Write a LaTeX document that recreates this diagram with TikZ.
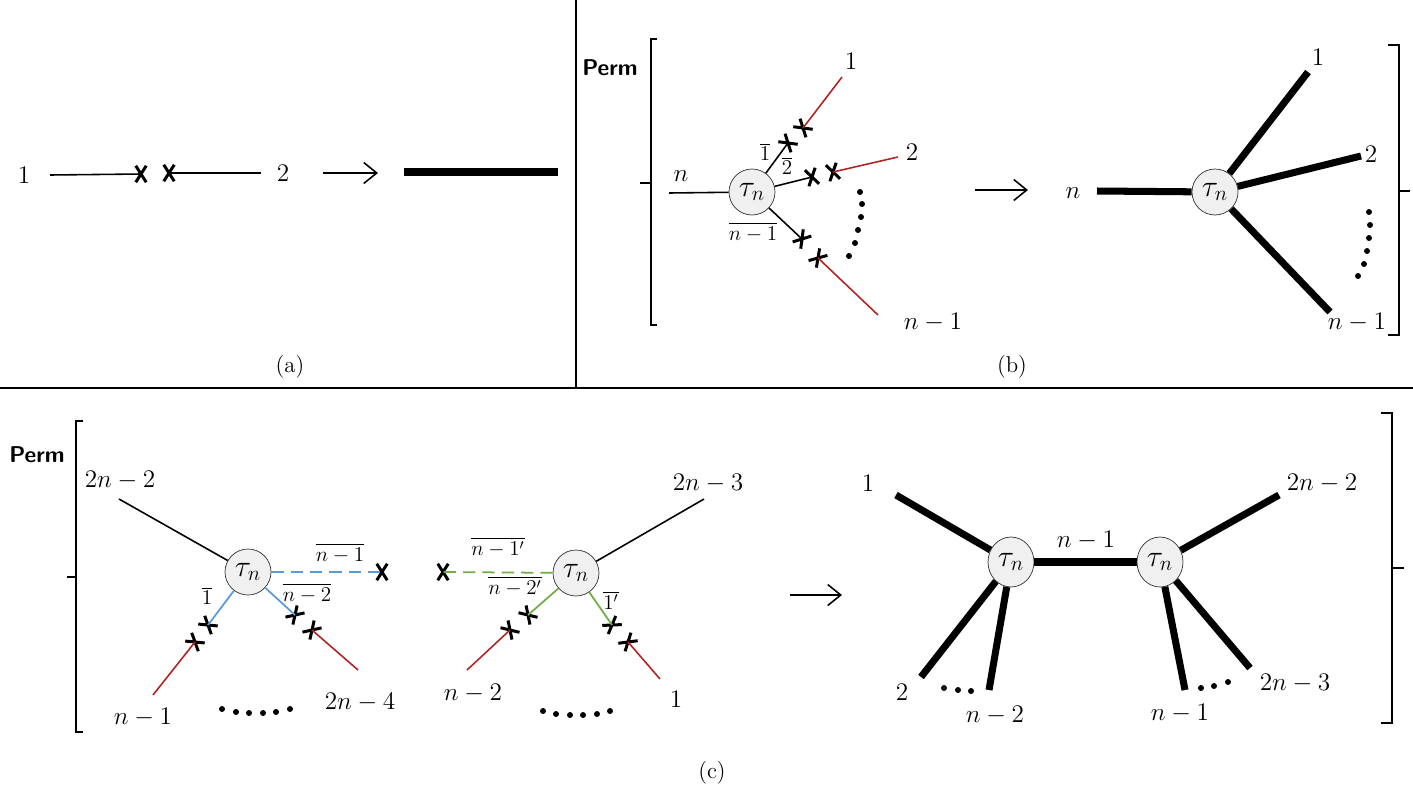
\documentclass[tikz,border=0pt]{standalone}
\usepackage{amsmath,amssymb}
\usepackage{xcolor}
\usetikzlibrary{arrows.meta,positioning,shapes.misc,shapes.geometric}
\definecolor{legred}{HTML}{B22222}
\definecolor{legblue}{HTML}{5B9BD5}
\definecolor{leggreen}{HTML}{70AD47}

\begin{document}
\begin{tikzpicture}[
    x=0.02cm,
    y=-0.02cm,
    >={Straight Barb[length=2.6mm,width=4.2mm]},
    font=\fontsize{15}{18}\selectfont,
    vert/.style={
        draw=black!80,
        circle,
        thin,
        fill=gray!12,
        minimum size=0.92cm,
        inner sep=0pt,
        font=\fontsize{18}{20}\selectfont
    },
    vertb/.style={
        draw=black!80,
        ellipse,
        thin,
        fill=gray!12,
        minimum width=0.92cm,
        minimum height=1.0cm,
        inner sep=0pt,
        font=\fontsize{18}{20}\selectfont
    },
    xmk/.style={
        cross out,
        draw,
        line width=1.7pt,
        minimum width=0.15cm,
        minimum height=0.27cm,
        inner sep=0pt
    },
    leg/.style={line width=0.9pt},
    redleg/.style={line width=0.9pt, draw=legred},
    blueleg/.style={line width=1pt, draw=legblue},
    greenleg/.style={line width=1pt, draw=leggreen},
    fat/.style={line width=4pt},
    arr/.style={->, line width=0.9pt},
    brk/.style={line width=1.1pt},
    sml/.style={font=\fontsize{12}{14}\selectfont, inner sep=1pt},
    captxt/.style={font=\fontsize{13}{15}\selectfont},
    perm/.style={font=\sffamily\bfseries\fontsize{13}{15}\selectfont}
]
\useasboundingbox (0,0) rectangle (1413,795);

% frame lines
\draw[line width=1pt] (0,388) -- (1413,388);
\draw[line width=1pt] (576,0) -- (576,388);

% panel (a)
\node (a1) at (24,175) {$1$};
\node (a2) at (283,173) {$2$};
\coordinate (a1e) at (50,175);
\coordinate (a2e) at (261,173);
\node[xmk] (ax1) at (141,174) {};
\node[xmk] (ax2) at (169,173) {};
\draw[leg] (a1e) -- (ax1.center);
\draw[leg] (ax2.center) -- (a2e);
\coordinate (aarS) at (323,173);
\coordinate (aarE) at (378,173);
\draw[arr] (aarS) -- (aarE);
\coordinate (afatS) at (404,172);
\coordinate (afatE) at (558,172);
\draw[fat] (afatS) -- (afatE);
\node[captxt] (capa) at (290,367) {(a)};

% panel (b): left side
\node[perm] (permb) at (610,68) {Perm};
\draw[brk] (657,39) -- (651,39) -- (651,325) -- (657,325);
\draw[brk] (651,183) -- (640,183);

\node[vert] (tb) at (752,192) {$\tau_n$};
\coordinate (bn) at (669,193);
\node (bnl) at (681,176) {$n$};
\draw[leg] (bn) -- (tb);

\node[xmk, rotate=50] (bx1) at (788,143) {};
\node[xmk, rotate=50] (bx2) at (803,128) {};
\coordinate (b1e) at (842,77);
\node (b1l) at (851,61) {$1$};
\draw[leg] (tb) -- (bx1.center);
\draw[redleg] (bx2.center) -- (b1e);
\node[sml] (b1bar) at (765,152) {$\overline{1}$};

\node[xmk, rotate=14] (bx3) at (812,177) {};
\node[xmk, rotate=14] (bx4) at (833,172) {};
\coordinate (b2e) at (898,157);
\node (b2l) at (912,152) {$2$};
\draw[leg] (tb) -- (bx3.center);
\draw[redleg] (bx4.center) -- (b2e);
\node[sml] (b2bar) at (787,166) {$\overline{2}$};

\node[xmk, rotate=-40] (bx5) at (802,239) {};
\node[xmk, rotate=-42] (bx6) at (818,258) {};
\coordinate (b3e) at (878,315);
\node (b3l) at (933,322) {$n-1$};
\draw[leg] (tb) -- (bx5.center);
\draw[redleg] (bx6.center) -- (b3e);
\node[sml] (b3bar) at (753,232) {$\overline{n-1}$};

\fill (860,192) circle (1.7pt) (862,204) circle (1.7pt) (861,217) circle (1.7pt)
      (858,230) circle (1.7pt) (855,243) circle (1.7pt) (849,256) circle (1.7pt);

\coordinate (barS) at (975,190);
\coordinate (barE) at (1028,190);
\draw[arr] (barS) -- (barE);

% panel (b): right side
\node[vert] (tc) at (1215,192) {$\tau_n$};
\node (cnl) at (1073,193) {$n$};
\coordinate (cn) at (1097,191);
\coordinate (c1e) at (1308,72);
\coordinate (c2e) at (1361,156);
\coordinate (c3e) at (1330,312);
\node (c1l) at (1318,57) {$1$};
\node (c2l) at (1371,154) {$2$};
\node (c3l) at (1357,322) {$n-1$};
\draw[fat] (cn) -- (tc);
\draw[fat] (tc) -- (c1e);
\draw[fat] (tc) -- (c2e);
\draw[fat] (tc) -- (c3e);
\fill (1369,212) circle (1.7pt) (1370,225) circle (1.7pt) (1369,238) circle (1.7pt)
      (1367,251) circle (1.7pt) (1364,264) circle (1.7pt) (1358,276) circle (1.7pt);
\draw[brk] (1388,45) -- (1399,45) -- (1399,335) -- (1388,335);
\draw[brk] (1399,191) -- (1410,191);
\node[captxt] (capb) at (1012,367) {(b)};

% panel (c): left pair
\node[perm] (permc) at (37,455) {Perm};
\draw[brk] (83,421) -- (76,421) -- (76,732) -- (83,732);
\draw[brk] (76,577) -- (67,577);

\node[vert] (tl) at (248,572) {$\tau_n$};
\coordinate (l0e) at (119,499);
\node (l0l) at (120,480) {$2n-2$};
\draw[leg] (tl) -- (l0e);

\node[xmk] (lx0) at (382,572) {};
\draw[blueleg, dashed, dash pattern=on 7pt off 4pt] (tl) -- (lx0.center);
\node[sml] (lbar0) at (340,553) {$\overline{n-1}$};

\node[xmk, rotate=52] (lx1) at (208,625) {};
\node[xmk, rotate=52] (lx2) at (195,642) {};
\coordinate (l1e) at (153,695);
\node (l1l) at (143,717) {$n-1$};
\draw[blueleg] (tl) -- (lx1.center);
\draw[redleg] (lx2.center) -- (l1e);
\node[sml] (lbar1) at (207,596) {$\overline{1}$};

\node[xmk, rotate=-45] (lx3) at (295,615) {};
\node[xmk, rotate=-45] (lx4) at (312,630) {};
\coordinate (l2e) at (358,670);
\node (l2l) at (360,702) {$2n-4$};
\draw[blueleg] (tl) -- (lx3.center);
\draw[redleg] (lx4.center) -- (l2e);
\node[sml] (lbar2) at (307,593) {$\overline{n-2}$};

\fill (222,709) circle (1.7pt) (236,712) circle (1.7pt) (249,713) circle (1.7pt)
      (263,713) circle (1.7pt) (276,712) circle (1.7pt) (290,709) circle (1.7pt);

\node[vert] (tm) at (576,573) {$\tau_n$};
\coordinate (m0e) at (704,499);
\node (m0l) at (708,483) {$2n-3$};
\draw[leg] (tm) -- (m0e);

\node[xmk] (mx0) at (443,572) {};
\draw[greenleg, dashed, dash pattern=on 7pt off 4pt] (tm) -- (mx0.center);
\node[sml] (mbar0) at (498,547) {$\overline{n-1'}$};

\node[xmk, rotate=44] (mx1) at (528,615) {};
\node[xmk, rotate=44] (mx2) at (510,630) {};
\coordinate (m1e) at (467,670);
\node (m1l) at (473,693) {$n-2$};
\draw[greenleg] (tm) -- (mx1.center);
\draw[redleg] (mx2.center) -- (m1e);
\node[sml] (mbar1) at (515,586) {$\overline{n-2'}$};

\node[xmk, rotate=-55] (mx3) at (612,625) {};
\node[xmk, rotate=-50] (mx4) at (628,642) {};
\coordinate (m2e) at (660,679);
\node (m2l) at (676,699) {$1$};
\draw[greenleg] (tm) -- (mx3.center);
\draw[redleg] (mx4.center) -- (m2e);
\node[sml] (mbar2) at (611,600) {$\overline{1'}$};

\fill (543,711) circle (1.7pt) (556,714) circle (1.7pt) (570,715) circle (1.7pt)
      (583,715) circle (1.7pt) (597,714) circle (1.7pt) (610,711) circle (1.7pt);

\coordinate (carS) at (790,595);
\coordinate (carE) at (842,595);
\draw[arr] (carS) -- (carE);

% panel (c): glued result
\node[vertb] (td1) at (1011,562) {$\tau_n$};
\node[vertb] (td2) at (1160,562) {$\tau_n$};
\draw[fat] (td1) -- (td2);
\node (dmid) at (1086,540) {$n-1$};

\coordinate (d1e) at (896,495);
\coordinate (d2e) at (921,677);
\coordinate (d3e) at (989,690);
\node (d1l) at (868,483) {$1$};
\node (d2l) at (902,692) {$2$};
\node (d3l) at (995,715) {$n-2$};
\draw[fat] (td1) -- (d1e);
\draw[fat] (td1) -- (d2e);
\draw[fat] (td1) -- (d3e);
\fill (944,688) circle (1.7pt) (958,690) circle (1.7pt) (971,691) circle (1.7pt);

\coordinate (d4e) at (1279,495);
\coordinate (d5e) at (1185,690);
\coordinate (d6e) at (1250,668);
\node (d4l) at (1322,483) {$2n-2$};
\node (d5l) at (1180,713) {$n-1$};
\node (d6l) at (1295,683) {$2n-3$};
\draw[fat] (td2) -- (d4e);
\draw[fat] (td2) -- (d5e);
\draw[fat] (td2) -- (d6e);
\fill (1201,688) circle (1.7pt) (1214,686) circle (1.7pt) (1228,682) circle (1.7pt);

\draw[brk] (1381,413) -- (1392,413) -- (1392,723) -- (1381,723);
\draw[brk] (1392,568) -- (1404,568);
\node[captxt] (capc) at (712,773) {(c)};

\end{tikzpicture}
\end{document}
